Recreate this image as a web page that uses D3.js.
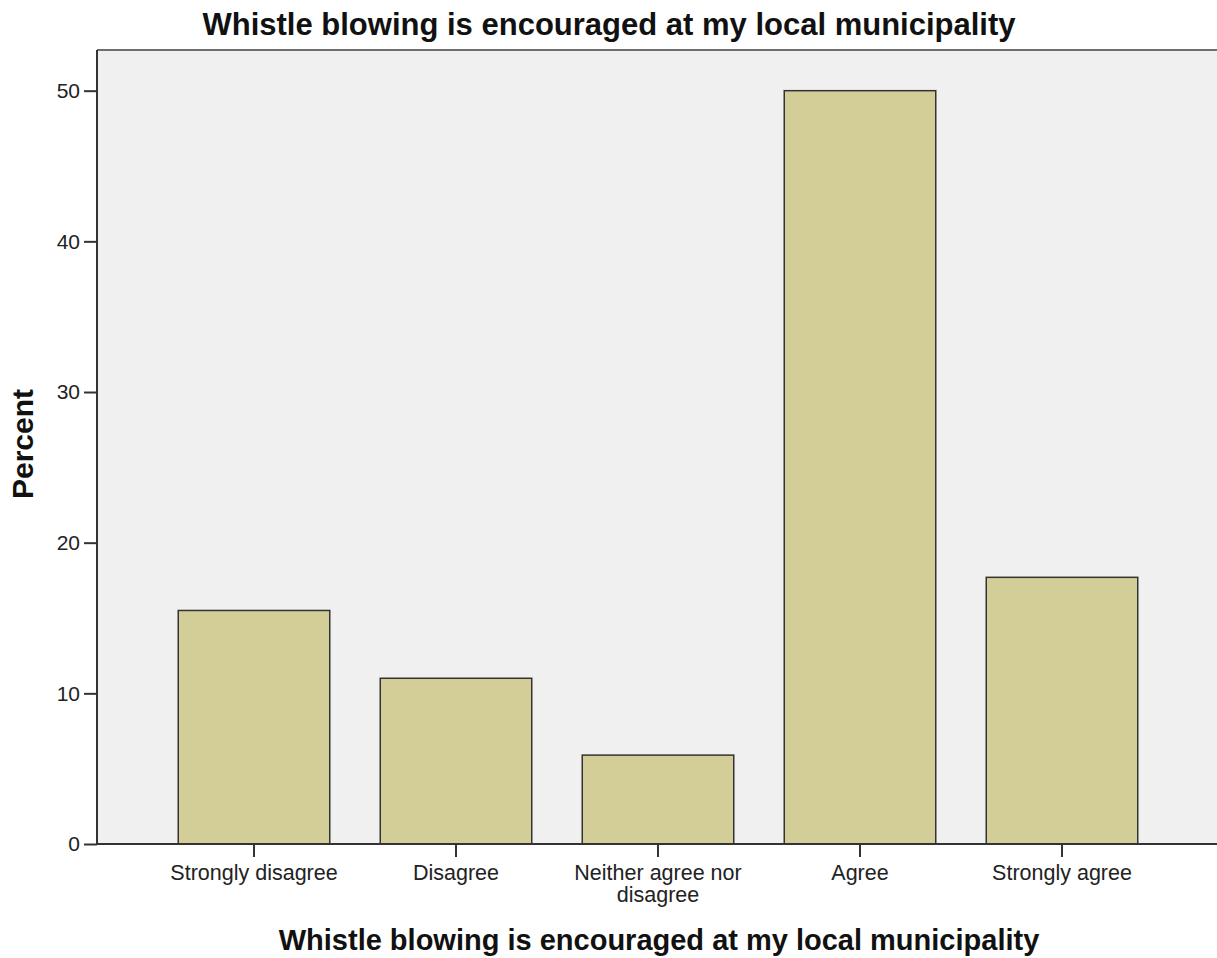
<!DOCTYPE html>
<html><head><meta charset="utf-8">
<script src="https://cdn.jsdelivr.net/npm/d3@7"></script>
<style>body{margin:0;background:#fff}svg{display:block;font-family:Arial,"Liberation Sans",sans-serif}</style>
</head><body>
<svg id="c" width="1217" height="958"></svg>
<script>
const categories = ["Strongly disagree","Disagree","Neither agree nor disagree","Agree","Strongly agree"];
const percents = [15.5, 11.0, 5.9, 50.0, 17.7];
const yTicks = [0,10,20,30,40,50];
const titleText = "Whistle blowing is encouraged at my local municipality";
const xTitle = "Whistle blowing is encouraged at my local municipality";
const yTitle = "Percent";

(function(){
const svg = d3.select("#c");
const pL = 97, pT = 50, pR = 1217, pB = 844;
const x = d3.scaleBand().domain(categories).range([153, 1163]).paddingInner(0.25).paddingOuter(0.125);
const y = d3.scaleLinear().domain([0, 52.7]).range([pB, pT]);

svg.append("rect").attr("x", pL).attr("y", pT).attr("width", pR-pL).attr("height", pB-pT).attr("fill", "#f0f0f0");
svg.append("line").attr("x1", pL).attr("x2", pR).attr("y1", pT).attr("y2", pT).attr("stroke", "#6e6e6e").attr("stroke-width", 2);

svg.selectAll(".bar").data(categories).join("rect")
  .attr("x", d => x(d)).attr("y", (d,i) => y(percents[i]))
  .attr("width", x.bandwidth()).attr("height", (d,i) => y(0) - y(percents[i]))
  .attr("fill", "#d3ce97").attr("stroke", "#333").attr("stroke-width", 1.5);

const ya = svg.append("g").attr("transform", `translate(${pL},0)`)
  .call(d3.axisLeft(y).tickValues(yTicks).tickSize(13).tickPadding(4));
ya.select(".domain").attr("stroke", "#333").attr("stroke-width", 2).attr("d", `M0,${pT}V${pB}`);
ya.selectAll(".tick line").attr("stroke", "#333").attr("stroke-width", 2);
ya.selectAll(".tick text").attr("font-size", 21).attr("fill", "#222");

const xa = svg.append("g").attr("transform", `translate(0,${pB})`)
  .call(d3.axisBottom(x).tickSize(13).tickPadding(8));
xa.select(".domain").attr("stroke", "#333").attr("stroke-width", 2).attr("d", `M${pL},0H${pR}`);
xa.selectAll(".tick line").attr("stroke", "#333").attr("stroke-width", 2);
xa.selectAll(".tick text").attr("font-size", 21.5).attr("fill", "#222").each(function(d){
  const t = d3.select(this);
  if (d === "Neither agree nor disagree") {
    t.text(null);
    t.append("tspan").attr("x", 0).attr("dy", "0.71em").text("Neither agree nor");
    t.append("tspan").attr("x", 0).attr("dy", "1.02em").text("disagree");
    t.attr("dy", null);
  }
});

svg.append("text").attr("x", 609).attr("y", 35).attr("text-anchor", "middle")
  .attr("font-size", 31).attr("font-weight", "bold").attr("fill", "#111").text(titleText);
svg.append("text").attr("x", 659).attr("y", 950).attr("text-anchor", "middle")
  .attr("font-size", 29).attr("font-weight", "bold").attr("fill", "#111").text(xTitle);
svg.append("text").attr("transform", "translate(33,444) rotate(-90)").attr("text-anchor", "middle")
  .attr("font-size", 30).attr("font-weight", "bold").attr("fill", "#111").text(yTitle);
})();
</script>
</body></html>
